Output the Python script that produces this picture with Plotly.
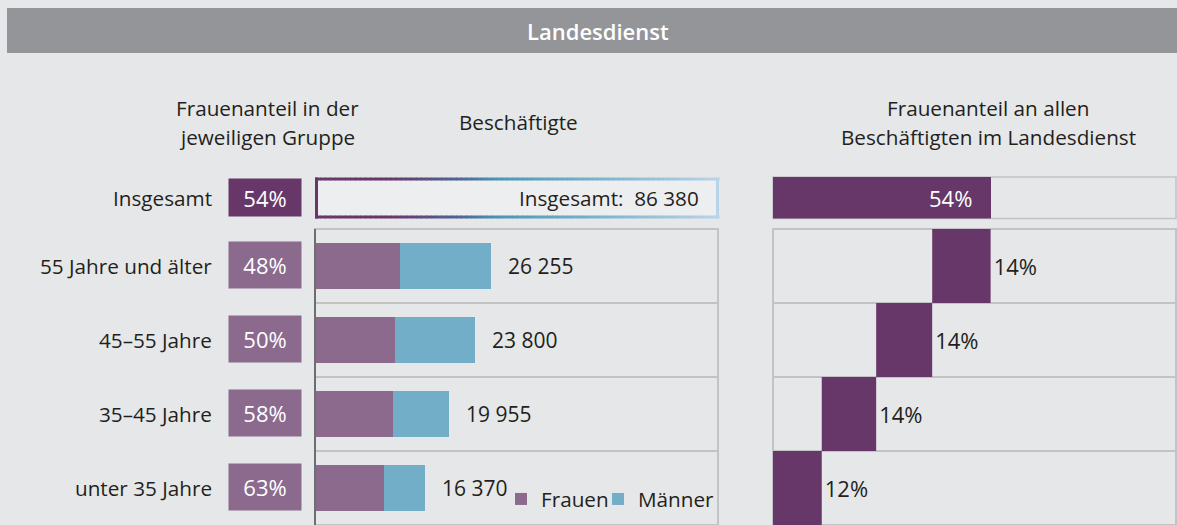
import plotly.graph_objects as go

# ---------------- data ----------------
groups = ["55 Jahre und älter", "45–55 Jahre", "35–45 Jahre", "unter 35 Jahre"]
totals = [26255, 23800, 19955, 16370]
frauen = [12600, 11900, 11575, 10315]
maenner = [13655, 11900, 8380, 6055]
share_in_group = ["48%", "50%", "58%", "63%"]
share_of_all = [14.5, 13.9, 13.5, 12.1]
share_of_all_labels = ["14%", "14%", "14%", "12%"]
total_label = "Insgesamt"
total_count = 86380
total_share_in_group = "54%"
total_share = 54
total_share_label = "54%"
legend_names = ["Frauen", "Männer"]
title_text = "Landesdienst"
header_left = ["Frauenanteil in der", "jeweiligen Gruppe"]
header_mid = "Beschäftigte"
header_right = ["Frauenanteil an allen", "Beschäftigten im Landesdienst"]

# ---------------- style ----------------
W, H = 1177, 525
BG = "#e6e7e8"
TXT = "#231f20"
PURPLE_D = "#68376a"
PURPLE_L = "#8b6a8e"
BLUE = "#72aec8"
GRID = "#c2c3c5"
FONT = "Open Sans"
FS = 20.7
FSP = 22


def X(px):
    return px / W


def Y(py):
    return 1 - py / H


def fmt(v):
    return f"{v:,}".replace(",", " ")


fig = go.Figure()

# stacked bars Frauen / Männer
fig.add_trace(go.Bar(y=groups, x=frauen, orientation="h", name=legend_names[0],
                     marker=dict(color=PURPLE_L, line=dict(width=0)), width=0.61,
                     xaxis="x", yaxis="y", hoverinfo="skip", legend="legend"))
fig.add_trace(go.Bar(y=groups, x=maenner, orientation="h", name=legend_names[1],
                     marker=dict(color=BLUE, line=dict(width=0)), width=0.61,
                     xaxis="x", yaxis="y", hoverinfo="skip", legend="legend2"))

# total employees bar (frame)
fig.add_trace(go.Bar(y=[total_label], x=[total_count], orientation="h", showlegend=False,
                     marker=dict(color="#edeef0", line=dict(width=0)), width=1,
                     xaxis="x3", yaxis="y3", hoverinfo="skip"))

# right: total share
fig.add_trace(go.Bar(y=[total_label], x=[total_share], orientation="h", showlegend=False,
                     marker=dict(color=PURPLE_D, line=dict(width=0)), width=1,
                     xaxis="x4", yaxis="y3", hoverinfo="skip"))

# right: cascading shares (waterfall, bottom row first)
fig.add_trace(go.Waterfall(
    orientation="h",
    y=groups[::-1], x=share_of_all[::-1],
    measure=["relative"] * len(groups),
    text=share_of_all_labels[::-1], textposition="outside",
    textfont=dict(family=FONT, size=FSP, color=TXT),
    increasing=dict(marker=dict(color=PURPLE_D, line=dict(width=0))),
    connector=dict(visible=False),
    width=[1] * len(groups),
    cliponaxis=False, showlegend=False,
    xaxis="x4", yaxis="y", hoverinfo="skip"))

shapes = []
annotations = []


def ann(**kw):
    d = dict(showarrow=False, xanchor="center", yanchor="middle",
             font=dict(family=FONT, size=FS, color=TXT))
    d.update(kw)
    annotations.append(d)


# title bar
shapes.append(dict(type="rect", xref="paper", yref="paper", x0=X(7), x1=1, y0=Y(53), y1=Y(8),
                   fillcolor="#939598", line=dict(width=0), layer="below"))
ann(text=title_text, xref="paper", yref="paper", x=X(598), y=Y(31),
    font=dict(family=FONT, size=22, color="white", weight=600))

# headers
for i, t in enumerate(header_left):
    ann(text=t, xref="paper", yref="paper", x=X(267), y=Y(108 + 29 * i))
ann(text=header_mid, xref="paper", yref="paper", x=X(518), y=Y(122))
for i, t in enumerate(header_right):
    ann(text=t, xref="paper", yref="paper", x=X(988), y=Y(108 + 29 * i))

# left panel: row outlines and separators
shapes.append(dict(type="rect", xref="x domain", yref="y domain", x0=0, x1=1, y0=0, y1=1.0,
                   line=dict(color=GRID, width=2), fillcolor="rgba(0,0,0,0)", layer="below"))
for b in [0.5, 1.5, 2.5]:
    shapes.append(dict(type="line", xref="x domain", yref="y", x0=0, x1=1, y0=b, y1=b,
                       line=dict(color=GRID, width=2), layer="below"))
shapes.append(dict(type="line", xref="x domain", yref="y domain", x0=0, x1=0, y0=0, y1=1,
                   line=dict(color="#6d6e71", width=2)))

# right panel: row outlines and separators
shapes.append(dict(type="rect", xref="x4 domain", yref="y domain", x0=0, x1=1, y0=0, y1=1,
                   line=dict(color=GRID, width=2), fillcolor="rgba(0,0,0,0)", layer="below"))
for b in [0.5, 1.5, 2.5]:
    shapes.append(dict(type="line", xref="x4 domain", yref="y", x0=0, x1=1, y0=b, y1=b,
                       line=dict(color=GRID, width=2), layer="below"))
shapes.append(dict(type="rect", xref="x4 domain", yref="y3 domain", x0=0, x1=1, y0=0, y1=1,
                   line=dict(color=GRID, width=1.5), fillcolor="rgba(0,0,0,0)", layer="below"))


# gradient frame around total employees
def hex2rgb(h):
    h = h.lstrip("#")
    return tuple(int(h[i:i + 2], 16) for i in (0, 2, 4))


stops = [(0.0, "#6a3669"), (0.17, "#6a3669"), (0.28, "#5a4e82"), (0.37, "#4c6c9c"),
         (0.45, "#4a95b4"), (0.62, "#6aaac6"), (1.0, "#b9d4e8")]


def grad(t):
    for (t0, c0), (t1, c1) in zip(stops[:-1], stops[1:]):
        if t0 <= t <= t1:
            f = (t - t0) / (t1 - t0) if t1 > t0 else 0
            a, b = hex2rgb(c0), hex2rgb(c1)
            return "rgb(%d,%d,%d)" % tuple(round(a[k] + (b[k] - a[k]) * f) for k in range(3))
    return stops[-1][1]


fx0, fx1, fy0, fy1 = 315, 719, 177.5, 218.5
N = 80
for k in range(N):
    t0, t1 = k / N, (k + 1) / N
    col = grad((t0 + t1) / 2)
    for yy in (fy0 + 1.5, fy1 - 1.5):
        shapes.append(dict(type="line", xref="paper", yref="paper",
                           x0=X(fx0 + (fx1 - fx0) * t0), x1=X(fx0 + (fx1 - fx0) * t1 + 0.6),
                           y0=Y(yy), y1=Y(yy), line=dict(color=col, width=3)))
shapes.append(dict(type="line", xref="paper", yref="paper", x0=X(fx0 + 1.5), x1=X(fx0 + 1.5),
                   y0=Y(fy0), y1=Y(fy1), line=dict(color=stops[0][1], width=3)))
shapes.append(dict(type="line", xref="paper", yref="paper", x0=X(fx1 - 1.5), x1=X(fx1 - 1.5),
                   y0=Y(fy0), y1=Y(fy1), line=dict(color=stops[-1][1], width=3)))

ann(text=f"{total_label}:  {fmt(total_count)}", xref="x3", yref="y3",
    x=total_count, y=total_label, xanchor="right", xshift=-18)

# row labels and in-group share boxes
ann(text=total_label, xref="paper", yref="y3", x=X(214), y=total_label, xanchor="right")
ann(text=total_share_in_group, xref="paper", yref="y3", x=X(265), y=total_label,
    width=72, height=37, borderpad=0, bgcolor=PURPLE_D,
    font=dict(family=FONT, size=FSP, color="white"))
for g, s, tot in zip(groups, share_in_group, totals):
    ann(text=g, xref="paper", yref="y", x=X(214), y=g, xanchor="right")
    ann(text=s, xref="paper", yref="y", x=X(265), y=g, yshift=1,
        width=72, height=46, borderpad=0, bgcolor=PURPLE_L,
        font=dict(family=FONT, size=FSP, color="white"))
    ann(text=fmt(tot), xref="x", yref="y", x=tot, y=g, xanchor="left", xshift=15,
        font=dict(family=FONT, size=21, color=TXT))

# right total share label
ann(text=total_share_label, xref="x4", yref="y3", x=total_share, y=total_label,
    xanchor="right", xshift=-17, font=dict(family=FONT, size=FSP, color="white"))

legend_style = dict(orientation="h", xanchor="left", yanchor="middle",
                    bgcolor="rgba(0,0,0,0)", font=dict(family=FONT, size=FS, color=TXT),
                    itemwidth=30)

fig.update_layout(
    width=W, height=H, margin=dict(l=0, r=0, t=0, b=0), autosize=False,
    paper_bgcolor=BG, plot_bgcolor="rgba(0,0,0,0)",
    barmode="stack", bargap=0,
    font=dict(family=FONT, size=FS, color=TXT),
    xaxis=dict(domain=[X(315), X(718)], range=[0, 60050], visible=False, anchor="y", fixedrange=True),
    yaxis=dict(domain=[0, Y(229)], type="category", categoryorder="array", categoryarray=groups,
               range=[3.5, -0.5], visible=False, anchor="x", fixedrange=True),
    xaxis3=dict(domain=[X(315), X(719)], range=[0, total_count], visible=False, anchor="y3"),
    yaxis3=dict(domain=[Y(218.5), Y(177)], type="category", range=[-0.5, 0.5], visible=False,
                anchor="x3"),
    xaxis4=dict(domain=[X(773), X(1176)], range=[0, 100], visible=False, anchor="y"),
    showlegend=True,
    legend=dict(x=X(501), y=Y(499), **legend_style),
    legend2=dict(x=X(598), y=Y(499), **legend_style),
    shapes=shapes, annotations=annotations,
)

fig.write_html("out.html", config={"displayModeBar": False},
               post_script="document.body.style.margin='0';document.body.style.overflow='hidden';")
